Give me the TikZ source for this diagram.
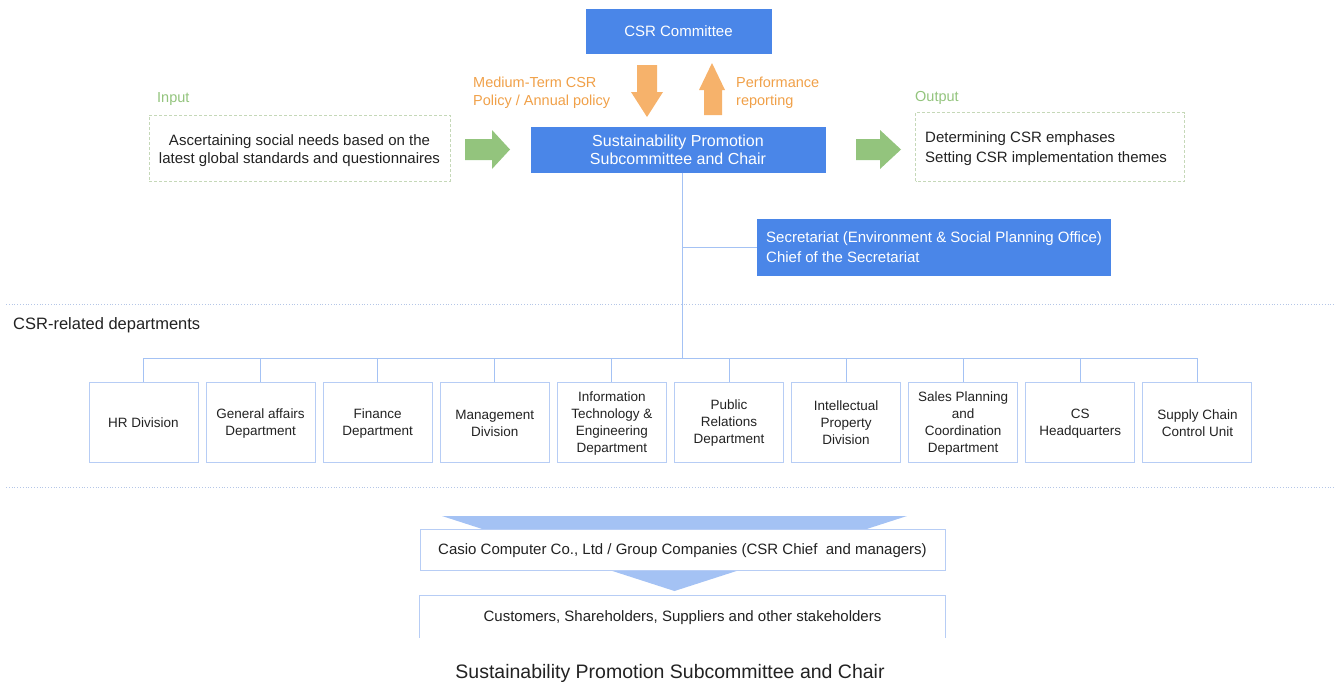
\documentclass[tikz,border=0pt]{standalone}
\usepackage{fontspec}
\setmainfont{Liberation Sans}
\definecolor{cblue}{HTML}{4A86E8}
\definecolor{lblue}{HTML}{A4C2F4}
\definecolor{bblue}{HTML}{B7CDF5}
\definecolor{orarrow}{HTML}{F6B26B}
\definecolor{ortext}{HTML}{F0A048}
\definecolor{garrow}{HTML}{93C47D}
\definecolor{gdash}{HTML}{C5D8B8}
\definecolor{sepcol}{HTML}{B4C6E7}
\definecolor{ink}{HTML}{222222}
\tikzset{
  bluebox/.style={fill=cblue, draw=cblue, text=white, inner sep=0pt, align=center,
    font=\fontsize{15}{18}\selectfont},
  dashbox/.style={draw=gdash, line width=0.8pt, dash pattern=on 3pt off 2pt, inner sep=0pt,
    text=ink, font=\fontsize{15}{18.5}\selectfont},
  dept/.style={draw=bblue, line width=1pt, minimum width=109pt, minimum height=80pt,
    align=center, text=ink, font=\fontsize{13.5}{17}\selectfont, inner sep=0pt},
  wbox/.style={draw=bblue, line width=1pt, fill=white, minimum width=525pt, minimum height=41pt,
    text=ink, font=\fontsize{15}{18}\selectfont, inner sep=0pt},
  link/.style={draw=lblue, line width=1pt},
  lbl/.style={anchor=west, inner sep=0pt, align=left, font=\fontsize{14.5}{18}\selectfont},
  seprule/.style={draw=sepcol, line width=0.8pt, dotted},
}
\begin{document}
\begin{tikzpicture}[x=1pt,y=-1pt]
\useasboundingbox (0,0) rectangle (1338,686);

% top boxes
\node[bluebox, minimum width=185pt, minimum height=44pt] (csr) at (678.5,31) {CSR Committee};
\node[bluebox, minimum width=294pt, minimum height=45pt, font=\fontsize{16}{18}\selectfont] (sust) at (678,149.5)
  {Sustainability Promotion\\Subcommittee and Chair};
\node[bluebox, minimum width=353pt, minimum height=56pt] (sec) at (933.5,247) {};
\node[anchor=west, inner sep=0pt, align=left, text=white, font=\fontsize{15}{20}\selectfont] (sectext) at (766,247.5)
  {Secretariat (Environment \& Social Planning Office)\\Chief of the Secretariat};

% input / output
\node[lbl, text=garrow] (inlbl) at (157,99) {Input};
\node[dashbox, minimum width=301pt, minimum height=66pt, align=center] (inbox) at (299.5,148)
  {\rule{0pt}{16pt}Ascertaining social needs based on the\\latest global standards and questionnaires};
\node[dashbox, draw=none, minimum width=268pt, minimum height=68pt] (outbox) at (1050,147) {};
\draw[draw=gdash, line width=0.8pt, dash pattern=on 3pt off 2pt] (outbox.south west) rectangle (outbox.north east);
\node[lbl, text=garrow] (outlbl) at (915,98) {Output};
\node[anchor=west, inner sep=0pt, align=left, text=ink, font=\fontsize{15}{20.5}\selectfont] (outtext) at (925,148.5)
  {Determining CSR emphases\\Setting CSR implementation themes};

% orange labels
\node[lbl, text=ortext] (pol) at (473,93) {Medium-Term CSR\\Policy / Annual policy};
\node[lbl, text=ortext] (perf) at (736,93) {Performance\\reporting};

% block arrows
\fill[garrow] (465,139) -- (492,139) -- (492,130) -- (510,149.5) -- (492,169) -- (492,160) -- (465,160) -- cycle;
\fill[garrow] (856,139) -- (880,139) -- (880,130) -- (901,149.5) -- (880,169) -- (880,160) -- (856,160) -- cycle;
\fill[orarrow] (637,65) -- (657,65) -- (657,92) -- (663,92) -- (647,117) -- (631,92) -- (637,92) -- cycle;
\fill[orarrow] (704,115) -- (722,115) -- (722,90) -- (725,90) -- (712,63) -- (699,90) -- (704,90) -- cycle;

% separators
\draw[seprule] (6,304) -- (1335,304);
\draw[seprule] (6,487) -- (1335,487);
\node[lbl, text=ink, font=\fontsize{16.5}{18}\selectfont] (csrrel) at (13,325) {CSR-related departments};

% departments
\foreach \i/\t in {1/{HR Division},
                   2/{General affairs\\Department},
                   3/{Finance\\Department},
                   4/{Management\\Division},
                   5/{Information\\Technology \&\\Engineering\\Department},
                   6/{Public\\Relations\\Department},
                   7/{Intellectual\\Property\\Division},
                   8/{Sales Planning\\and\\Coordination\\Department},
                   9/{CS\\Headquarters},
                   10/{Supply Chain\\Control Unit}}
  \node[dept] (d\i) at ({143.5+117.1*(\i-1)},422) {\rule{0pt}{12pt}\t};

% connectors
\coordinate (trunk) at (682,172.5);
\coordinate (bar) at (682,358);
\draw[link] (trunk) -- (bar);
\draw[link] (sec.west) -- (sec.west -| trunk);
\draw[link] (d1.north |- bar) -- (d10.north |- bar);
\foreach \i in {1,...,10} \draw[link] (d\i.north) -- (d\i.north |- bar);

% bottom flow
\fill[lblue] (442,516) -- (907,516) -- (674.5,591) -- cycle;
\node[wbox] (casio) at (682.5,549.5) {\rule{0pt}{13pt}Casio Computer Co., Ltd / Group Companies (CSR Chief\ \ and managers)};
\node[wbox, draw=none] (cust) at (682.5,616.5) {\rule{0pt}{13pt}Customers, Shareholders, Suppliers and other stakeholders};
\draw[link, draw=bblue] (cust.south west) |- (cust.north east) -- (cust.south east);

% caption
\node[inner sep=0pt, text=ink, font=\fontsize{19.5}{22}\selectfont] (cap) at (670,673)
  {Sustainability Promotion Subcommittee and Chair};
\end{tikzpicture}
\end{document}
